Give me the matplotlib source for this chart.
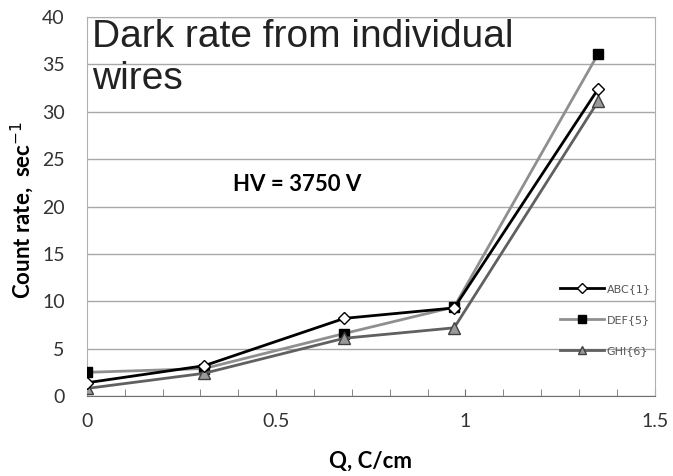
import matplotlib
matplotlib.use("Agg")
import matplotlib.pyplot as plt
from matplotlib.ticker import MultipleLocator, FuncFormatter

# charge values (C/cm) and dark count rates per wire group
q = [0.0, 0.31, 0.68, 0.97, 1.35]
abc = [1.4, 3.2, 8.2, 9.3, 32.4]
def_ = [2.5, 2.9, 6.6, 9.4, 36.1]
ghi = [0.8, 2.4, 6.1, 7.2, 31.1]
labels = ["ABC{1}", "DEF{5}", "GHI{6}"]

fig = plt.figure(figsize=(6.73, 4.76), dpi=100)
ax = fig.add_axes([0.129, 0.168, 0.844, 0.796])

ax.plot(q, def_, color="#8f8f8f", lw=2, marker="s", ms=7,
        mfc="black", mec="black", label=labels[1], zorder=3)
ax.plot(q, ghi, color="#606060", lw=2, marker="^", ms=8,
        mfc="#9a9a9a", mec="#404040", label=labels[2], zorder=3)
ax.plot(q, abc, color="black", lw=2, marker="D", ms=6,
        mfc="white", mec="black", label=labels[0], zorder=4)

ax.set_xlim(0, 1.5)
ax.set_ylim(0, 40)
ax.xaxis.set_major_locator(MultipleLocator(0.5))
ax.xaxis.set_minor_locator(MultipleLocator(0.1))
ax.yaxis.set_major_locator(MultipleLocator(5))
ax.xaxis.set_major_formatter(FuncFormatter(lambda v, p: "%g" % v))

ax.grid(axis="y", color="#a8a8a8", lw=1)
ax.set_axisbelow(True)
for s in ["left", "right", "top"]:
    ax.spines[s].set_color("#b0b0b0")
ax.spines["bottom"].set_color("#707070")
ax.tick_params(axis="x", which="both", direction="in", length=5,
               color="#707070", pad=12, labelsize=14, labelcolor="#333333")
ax.tick_params(axis="y", length=0, pad=16, labelsize=14, labelcolor="#333333")
for t in ax.get_xticklabels() + ax.get_yticklabels():
    t.set_family("Lato")

ax.set_xlabel("Q, C/cm", fontsize=16, fontweight="bold", family="Lato")
ax.set_ylabel("Count rate,  sec$^{-1}$", fontsize=16, fontweight="bold",
              family="Lato")
ax.xaxis.set_label_coords(0.5, -0.145)
ax.yaxis.set_label_coords(-0.09, 0.49)

ax.text(0.01, 0.995, "Dark rate from individual\nwires", transform=ax.transAxes,
        ha="left", va="top", fontsize=28, linespacing=1.23,
        family=["Liberation Sans Narrow", "Liberation Sans"], color="#222222")
ax.text(0.37, 0.559, "HV = 3750 V", transform=ax.transAxes, ha="center",
        va="center", fontsize=16, fontweight="bold", family="Lato")

handles, labs = ax.get_legend_handles_labels()
order = [2, 0, 1]
leg = ax.legend([handles[i] for i in order], [labs[i] for i in order],
                loc="center right", bbox_to_anchor=(1.01, 0.2), frameon=False,
                fontsize=8, handlelength=4, labelspacing=1.9, handletextpad=0.2,
                markerscale=0.8)
for t in leg.get_texts():
    t.set_color("#555555")

fig.savefig("out.png", dpi=100)
